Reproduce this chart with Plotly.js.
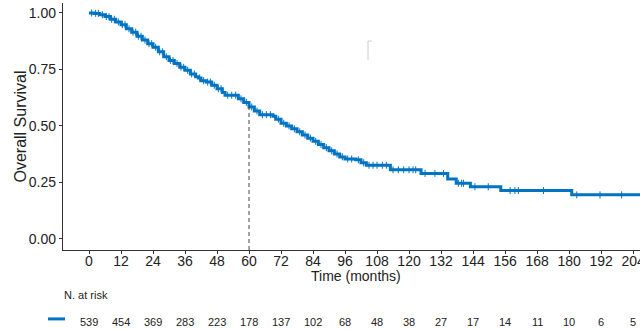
<!DOCTYPE html>
<html>
<head>
<meta charset="utf-8">
<script src="https://cdn.plot.ly/plotly-3.0.1.min.js"></script>
<style>html,body{margin:0;padding:0;background:#fff;}#chart{width:640px;height:330px;}</style>
</head>
<body>
<div id="chart"></div>
<script>
// Kaplan-Meier step curve (time in months, survival probability)
var kmTime = [0, 2, 4, 6, 8, 10, 12, 14, 16, 18, 20, 22, 24, 26, 28, 30, 32, 34, 36, 38, 40, 41, 42, 44, 46, 48, 50, 51, 56, 58, 60, 62, 64, 69, 70, 72, 74, 76, 78, 80, 82, 84, 86, 88, 90, 92, 94, 96, 100, 102, 104, 113, 124.5, 134.5, 137.7, 143, 154.4, 181, 206.6];
var kmSurv = [1.000, 0.998, 0.992, 0.984, 0.972, 0.960, 0.948, 0.930, 0.915, 0.897, 0.880, 0.864, 0.848, 0.828, 0.806, 0.790, 0.776, 0.760, 0.746, 0.730, 0.718, 0.712, 0.700, 0.694, 0.680, 0.664, 0.648, 0.636, 0.620, 0.604, 0.584, 0.566, 0.550, 0.543, 0.530, 0.512, 0.500, 0.487, 0.474, 0.460, 0.446, 0.432, 0.418, 0.404, 0.390, 0.376, 0.363, 0.354, 0.350, 0.337, 0.326, 0.306, 0.290, 0.265, 0.246, 0.231, 0.214, 0.195, 0.195];
// censoring times (months)
var censorTime = [1, 2.5, 3.5, 5, 6.5, 7.5, 8.5, 9.5, 11, 12.5, 13.5, 15, 16.5, 17.5, 18.5, 19.5, 21, 22.5, 23.5, 25, 26.5, 27.5, 29, 30.5, 31.5, 33, 34.5, 35.5, 37, 38.5, 39.5, 41.5, 43, 44.5, 45.5, 47, 48.5, 49.5, 52, 53.5, 55, 57, 59, 61, 63, 65, 66.5, 68, 71, 73, 75, 77, 79, 81, 83, 85, 87, 89, 91, 93, 95, 97, 98.5, 101, 103, 105, 106.5, 108, 110, 111.5, 114, 116, 118, 120, 121.5, 122.5, 126, 129.7, 132.9, 138.5, 139.7, 140.4, 144.7, 149.7, 157.9, 159.7, 161, 170.4, 182.9, 191.6, 199.7];
// x axis ticks and number at risk table
var xTicks = [0, 12, 24, 36, 48, 60, 72, 84, 96, 108, 120, 132, 144, 156, 168, 180, 192, 204];
var xTickLabels = ["0", "12", "24", "36", "48", "60", "72", "84", "96", "108", "120", "132", "144", "156", "168", "180", "192", "204"];
var atRisk = [539, 454, 369, 283, 223, 178, 137, 102, 68, 48, 38, 27, 17, 14, 11, 10, 6, 5];
var yTicks = [0, 0.25, 0.5, 0.75, 1];
var yTickLabels = ["0.00", "0.25", "0.50", "0.75", "1.00"];
var medianMarkTime = 60;
var medianMarkSurv = 0.584;

var blue = '#0073C2';
var font = '"Liberation Sans", Arial, sans-serif';
var yMin = -0.049, yMax = 1.044;

function survAt(t) {
  var s = kmSurv[0];
  for (var i = 0; i < kmTime.length; i++) { if (kmTime[i] <= t) s = kmSurv[i]; else break; }
  return s;
}
var censorSurv = censorTime.map(survAt);

var traces = [
  {x: kmTime, y: kmSurv, type: 'scatter', mode: 'lines', line: {shape: 'hv', color: blue, width: 3}, hoverinfo: 'skip'},
  {x: censorTime, y: censorSurv, type: 'scatter', mode: 'markers',
   marker: {symbol: 'line-ns-open', size: 5, color: blue, line: {width: 1, color: blue}}, hoverinfo: 'skip'}
];

var annotations = [];
for (var i = 0; i < xTicks.length; i++) {
  annotations.push({x: xTicks[i], xref: 'x', y: -0.291, yref: 'paper', text: String(atRisk[i]),
    showarrow: false, xanchor: 'center', yanchor: 'middle', font: {family: font, size: 11, color: '#222'}});
}
annotations.push({x: -0.002, xref: 'paper', y: -0.182, yref: 'paper', text: 'N. at risk', showarrow: false,
  xanchor: 'left', yanchor: 'middle', font: {family: font, size: 11, color: '#222'}});
annotations.push({x: 100, xref: 'x', y: -0.105, yref: 'paper', text: 'Time (months)', showarrow: false,
  xanchor: 'center', yanchor: 'middle', font: {family: font, size: 14, color: '#222'}});
annotations.push({x: -0.0745, xref: 'paper', y: 0.5, yref: 'paper', text: 'Overall Survival', showarrow: false,
  textangle: -90, xanchor: 'center', yanchor: 'middle', font: {family: font, size: 16, color: '#222'}});

var shapes = [
  {type: 'line', xref: 'x', yref: 'y', x0: medianMarkTime, x1: medianMarkTime, y0: yMin, y1: medianMarkSurv,
   line: {color: '#444', width: 1, dash: '4px,3px'}},
  {type: 'line', xref: 'paper', yref: 'paper', x0: -0.026, x1: 0.0035, y0: -0.279, y1: -0.279,
   line: {color: blue, width: 3}},
  {type: 'path', xref: 'paper', yref: 'paper', path: 'M 0.5355 0.846 L 0.5286 0.846 L 0.5286 0.769',
   line: {color: '#ccc', width: 1}}
];

var layout = {
  width: 640, height: 330,
  margin: {l: 63, r: 0, t: 3, b: 80, pad: 0},
  paper_bgcolor: '#fff', plot_bgcolor: '#fff',
  showlegend: false,
  font: {family: font, color: '#222'},
  xaxis: {range: [-9.75, 206.6], tickvals: xTicks, ticktext: xTickLabels, showgrid: false, zeroline: false,
    showline: true, linecolor: '#333', linewidth: 1.2, ticks: 'outside', ticklen: 3, tickcolor: '#333',
    ticklabelstandoff: -5, ticklabeloverflow: 'allow',
    tickfont: {family: font, size: 14, color: '#222'}},
  yaxis: {range: [yMin, yMax], tickvals: yTicks, ticktext: yTickLabels, showgrid: false, zeroline: false,
    showline: true, linecolor: '#333', linewidth: 1.2, ticks: 'outside', ticklen: 3, tickcolor: '#333',
    tickfont: {family: font, size: 14, color: '#222'}},
  annotations: annotations,
  shapes: shapes
};

Plotly.newPlot('chart', traces, layout, {displayModeBar: false, staticPlot: true});
</script>
</body>
</html>
